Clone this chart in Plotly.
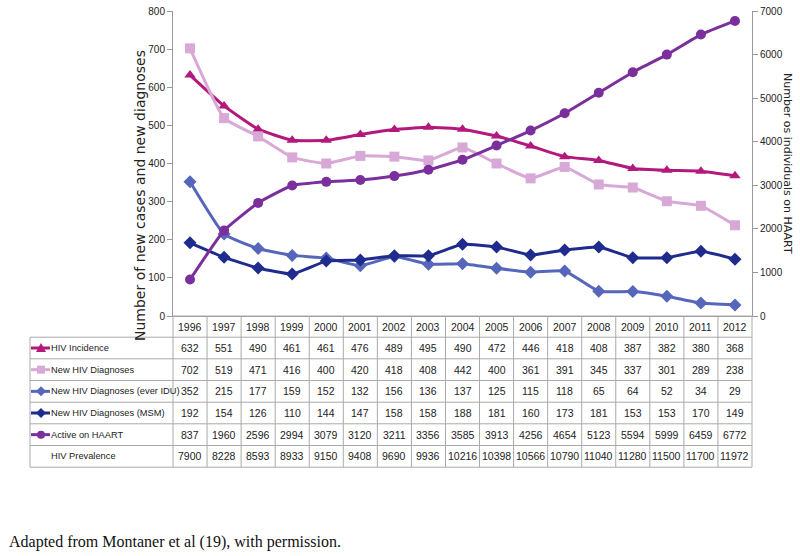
import plotly.graph_objects as go

years = [str(y) for y in range(1996, 2013)]
hiv_incidence = [632, 551, 490, 461, 461, 476, 489, 495, 490, 472, 446, 418, 408, 387, 382, 380, 368]
new_diagnoses = [702, 519, 471, 416, 400, 420, 418, 408, 442, 400, 361, 391, 345, 337, 301, 289, 238]
new_diag_idu = [352, 215, 177, 159, 152, 132, 156, 136, 137, 125, 115, 118, 65, 64, 52, 34, 29]
new_diag_msm = [192, 154, 126, 110, 144, 147, 158, 158, 188, 181, 160, 173, 181, 153, 153, 170, 149]
active_haart = [837, 1960, 2596, 2994, 3079, 3120, 3211, 3356, 3585, 3913, 4256, 4654, 5123, 5594, 5999, 6459, 6772]
hiv_prevalence = [7900, 8228, 8593, 8933, 9150, 9408, 9690, 9936, 10216, 10398, 10566, 10790, 11040, 11280, 11500, 11700, 11972]

row_labels = ["HIV Incidence", "New HIV Diagnoses", "New HIV Diagnoses (ever IDU)",
              "New HIV Diagnoses (MSM)", "Active on HAART", "HIV Prevalence"]
left_ticks = [0, 100, 200, 300, 400, 500, 600, 700, 800]
right_ticks = [0, 1000, 2000, 3000, 4000, 5000, 6000, 7000]

colors = ["#B3197D", "#D8A8D6", "#5566BB", "#1F2C8E", "#7A2F9C"]
symbols = ["triangle-up", "square", "diamond", "diamond", "circle"]

W, H = 800, 556
PLOT_L, PLOT_R, PLOT_T, PLOT_B = 173, 752, 11, 316
L, T, R, B = PLOT_L, PLOT_T, W - PLOT_R, H - PLOT_B
PW, PH = PLOT_R - PLOT_L, PLOT_B - PLOT_T
NC = len(years)

def py(ypx):
    return (PLOT_B - ypx) / PH

def px(xpx):
    return (xpx - PLOT_L) / PW

fig = go.Figure()
series = [hiv_incidence, new_diagnoses, new_diag_idu, new_diag_msm, active_haart]
for i, (name, vals) in enumerate(zip(row_labels[:5], series)):
    fig.add_trace(go.Scatter(
        x=years, y=vals, name=name, mode="lines+markers",
        line=dict(color=colors[i], width=3, shape="spline", smoothing=0.4),
        marker=dict(symbol=symbols[i], size=10, color=colors[i]),
        yaxis="y2" if i == 4 else "y", showlegend=False,
    ))

narrow = "Liberation Sans, Arial, sans-serif"
tickfont = dict(family=narrow, size=10, color="#222")
fig.update_layout(
    width=W, height=H, margin=dict(l=L, r=R, t=T, b=B, autoexpand=False),
    paper_bgcolor="white", plot_bgcolor="white",
    xaxis=dict(type="category", range=[-0.5, 16.5], showticklabels=False, ticks="",
               showgrid=False, showline=True, linecolor="#999", linewidth=1, zeroline=False,
               automargin=False),
    yaxis=dict(range=[0, 800], tickvals=left_ticks, showgrid=False, zeroline=False,
               showline=True, linecolor="#999", linewidth=1, ticks="outside", ticklen=5,
               tickcolor="#999", tickfont=tickfont, automargin=False, ticklabeloverflow="allow"),
    yaxis2=dict(range=[0, 7000], tickvals=right_ticks, overlaying="y", side="right",
                showgrid=False, zeroline=False, showline=True, linecolor="#999", linewidth=1,
                ticks="outside", ticklen=5, tickcolor="#999", tickfont=tickfont, automargin=False,
                ticklabeloverflow="allow"),
)

shapes = []
annotations = []
line_col = "#AAAAAA"
row_edges = [316, 337.2, 358.8, 380.5, 402.2, 423.8, 445.5, 467.2]
for i in range(NC + 1):
    shapes.append(dict(type="line", xref="paper", yref="paper", x0=i / NC, x1=i / NC,
                       y0=py(316), y1=py(467.2), line=dict(color=line_col, width=1)))
for k, e in enumerate(row_edges):
    x0 = 0 if k == 0 else px(30)
    shapes.append(dict(type="line", xref="paper", yref="paper", x0=x0, x1=1,
                       y0=py(e), y1=py(e), line=dict(color=line_col, width=1)))
shapes.append(dict(type="line", xref="paper", yref="paper", x0=px(30), x1=px(30),
                   y0=py(row_edges[1]), y1=py(row_edges[-1]), line=dict(color=line_col, width=1)))

cellfont = dict(family=narrow, size=10.5, color="#222")
labelfont = dict(family=narrow, size=9.3, color="#222")
table_rows = [years, hiv_incidence, new_diagnoses, new_diag_idu, new_diag_msm, active_haart, hiv_prevalence]
for r, row in enumerate(table_rows):
    yc = (row_edges[r] + row_edges[r + 1]) / 2
    for j, v in enumerate(row):
        annotations.append(dict(x=(j + 0.5) / NC, y=py(yc), xref="paper", yref="paper", text=str(v),
                                showarrow=False, font=cellfont, xanchor="center", yanchor="middle"))
    if r >= 1:
        lab = row_labels[r - 1]
        annotations.append(dict(x=px(49), y=py(yc), xref="paper", yref="paper", text=lab,
                                showarrow=False, font=labelfont, xanchor="left", yanchor="middle"))
        if r <= 5:
            c = colors[r - 1]
            ya = py(yc)
            base = dict(xref="paper", yref="paper", xsizemode="pixel", ysizemode="pixel",
                        xanchor=px(30), yanchor=ya)
            shapes.append(dict(type="line", x0=1, x1=20, y0=0, y1=0, line=dict(color=c, width=3), **base))
            sym = symbols[r - 1]
            if sym == "square":
                shapes.append(dict(type="rect", x0=7, x1=15, y0=-4, y1=4, fillcolor=c, line=dict(width=0), **base))
            elif sym == "circle":
                shapes.append(dict(type="circle", x0=7, x1=15, y0=-4, y1=4, fillcolor=c, line=dict(width=0), **base))
            elif sym == "diamond":
                shapes.append(dict(type="path", path="M 11,-5 L 16,0 L 11,5 L 6,0 Z", fillcolor=c,
                                   line=dict(width=0), **base))
            else:
                shapes.append(dict(type="path", path="M 6,-4 L 16,-4 L 11,5 Z", fillcolor=c,
                                   line=dict(width=0), **base))

annotations.append(dict(x=px(140), y=py(196), xref="paper", yref="paper",
                        text="Number of new cases and new diagnoses", textangle=-90,
                        showarrow=False, font=dict(family="DejaVu Sans, Verdana, sans-serif", size=14, color="#222"),
                        xanchor="center", yanchor="middle"))
annotations.append(dict(x=px(788), y=py(163), xref="paper", yref="paper",
                        text="Number os individuals on HAART", textangle=90,
                        showarrow=False, font=dict(family="DejaVu Sans, Verdana, sans-serif", size=11, color="#222"),
                        xanchor="center", yanchor="middle"))
annotations.append(dict(x=px(7), y=py(542), xref="paper", yref="paper",
                        text="Adapted from Montaner et al (19), with permission.",
                        showarrow=False, font=dict(family="Liberation Serif, Times New Roman, serif", size=16, color="#111"),
                        xanchor="left", yanchor="middle"))

fig.update_layout(shapes=shapes, annotations=annotations)
# remove the browser's default 8px body margin so the 800x556 figure fills the window
fig.write_html("out.html", config={"displayModeBar": False},
               post_script="document.body.style.margin='0px';")
